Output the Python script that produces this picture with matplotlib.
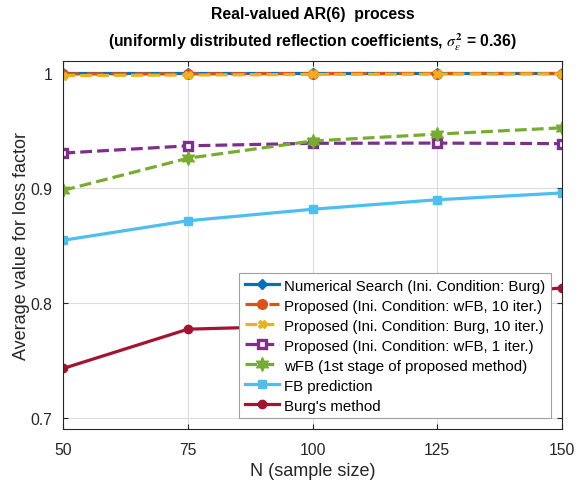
import matplotlib.pyplot as plt
import numpy as np

plt.rcParams['font.family'] = ['Liberation Sans', 'DejaVu Sans']
plt.rcParams['mathtext.fontset'] = 'stix'

# 数据
n_samples = [50, 75, 100, 125, 150]
numerical = [1.0005, 1.0005, 1.0005, 1.0005, 1.0005]
prop_wfb10 = [0.9995, 0.9995, 0.9998, 0.9998, 0.9998]
prop_burg10 = [0.998, 0.9985, 0.999, 0.9993, 0.9995]
prop_wfb1 = [0.9305, 0.9368, 0.9390, 0.9392, 0.9387]
wfb = [0.898, 0.926, 0.941, 0.947, 0.9525]
fb = [0.8545, 0.8715, 0.8815, 0.8898, 0.8957]
burg = [0.7428, 0.7770, 0.7800, 0.8030, 0.8130]

labels = ['Numerical Search (Ini. Condition: Burg)',
          'Proposed (Ini. Condition: wFB, 10 iter.)',
          'Proposed (Ini. Condition: Burg, 10 iter.)',
          'Proposed (Ini. Condition: wFB, 1 iter.)',
          'wFB (1st stage of proposed method)',
          'FB prediction',
          "Burg's method"]

fig = plt.figure(figsize=(5.82, 4.85), dpi=100)
ax = fig.add_axes([0.1088, 0.1134, 0.8563, 0.7594])

lw = 2.3
ax.plot(n_samples, numerical, '-', color='#0072BD', lw=lw, marker='D', ms=5, label=labels[0])
ax.plot(n_samples, prop_wfb10, '--', color='#D95319', lw=lw, marker='o', ms=7,
        markerfacecolor='#D95319', dashes=(5, 2.5), label=labels[1])
ax.plot(n_samples, prop_burg10, '--', color='#EDB120', lw=lw, marker='X', ms=6, label=labels[2])
ax.plot(n_samples, prop_wfb1, '--', color='#7E2F8E', lw=lw, marker='s', ms=5.5,
        markerfacecolor='white', markeredgewidth=2.4, label=labels[3])
# 六角星 (MATLAB 'h')
ax.plot(n_samples, wfb, '--', color='#77AC30', lw=lw, marker=(6, 1, 0), ms=10, label=labels[4])
ax.plot(n_samples, fb, '-', color='#4DBEEE', lw=lw, marker='s', ms=6, label=labels[5])
ax.plot(n_samples, burg, '-', color='#A2142F', lw=lw, marker='o', ms=6, label=labels[6])

ax.set_xlim(50, 150)
ax.set_ylim(0.69, 1.011)
ax.set_xticks(n_samples)
ax.set_yticks([0.7, 0.8, 0.9, 1.0])
ax.set_yticklabels(['0.7', '0.8', '0.9', '1'])
ax.tick_params(direction='in', top=True, right=True, labelsize=11.3, colors='#262626', pad=8)
ax.tick_params(axis='x', pad=9)
ax.grid(True, color='#dcdcdc', lw=0.8)
for s in ax.spines.values():
    s.set_color('#262626')

ax.set_xlabel('N (sample size)', fontsize=13, color='#262626')
ax.set_ylabel('Average value for loss factor', fontsize=13, color='#262626', labelpad=0)
ax.set_title('Real-valued AR(6)  process\n(uniformly distributed reflection coefficients, '
             r'$\sigma_{\epsilon}^{\mathbf{2}}$ = 0.36)',
             fontsize=11.3, fontweight='bold', linespacing=1.6, pad=11)

leg = ax.legend(loc='lower right', bbox_to_anchor=(0.9785, 0.03), borderaxespad=0,
                fontsize=10.8, fancybox=False, framealpha=1, edgecolor='#a0a0a0',
                handlelength=2.3, handletextpad=0.35, labelspacing=0.4, numpoints=1,
                borderpad=0.35)
leg.get_frame().set_linewidth(0.8)

plt.savefig('out.png', dpi=100)
plt.close()
